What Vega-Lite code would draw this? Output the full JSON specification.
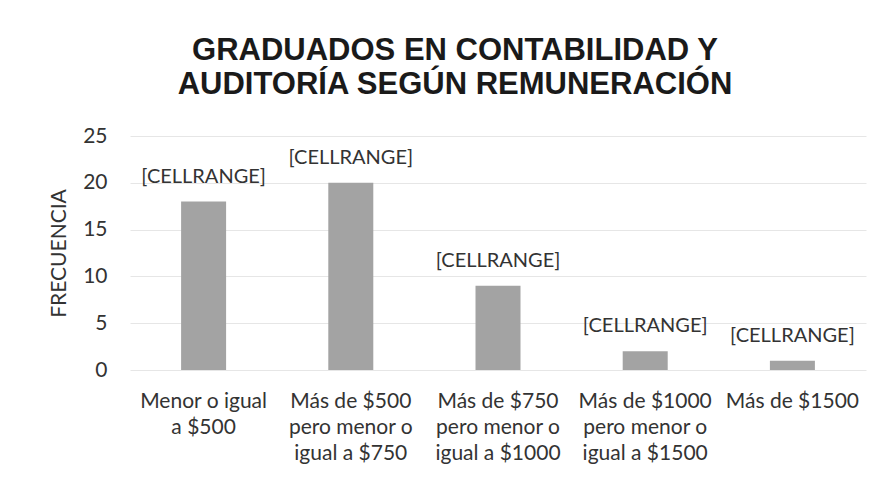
{
  "$schema": "https://vega.github.io/schema/vega-lite/v6.json",
  "autosize": {"type": "none"},
  "width": 736,
  "height": 234,
  "padding": {"left": 130, "top": 136, "right": 17, "bottom": 110},
  "background": "white",
  "title": {
    "text": ["GRADUADOS EN CONTABILIDAD Y", "AUDITORÍA SEGÚN REMUNERACIÓN"],
    "font": "Liberation Sans",
    "fontSize": 31,
    "fontWeight": "bold",
    "color": "#1a1a1a",
    "lineHeight": 34,
    "anchor": "middle",
    "dx": -43,
    "offset": 24
  },
  "data": {
    "values": [
      {"categoria": "Menor o igual a $500", "frecuencia": 18, "etiqueta": "[CELLRANGE]"},
      {"categoria": "Más de $500 pero menor o igual a $750", "frecuencia": 20, "etiqueta": "[CELLRANGE]"},
      {"categoria": "Más de $750 pero menor o igual a $1000", "frecuencia": 9, "etiqueta": "[CELLRANGE]"},
      {"categoria": "Más de $1000 pero menor o igual a $1500", "frecuencia": 2, "etiqueta": "[CELLRANGE]"},
      {"categoria": "Más de $1500", "frecuencia": 1, "etiqueta": "[CELLRANGE]"}
    ]
  },
  "encoding": {
    "x": {
      "field": "categoria",
      "type": "nominal",
      "sort": null,
      "axis": {
        "title": null,
        "labelAngle": 0,
        "labelFont": "Lato",
        "labelFontSize": 21,
        "labelColor": "#333333",
        "labelLineHeight": 26,
        "labelPadding": 20,
        "labelBaseline": "top",
        "ticks": false,
        "domain": false,
        "labelExpr": "split(replace(replace(replace(datum.label, ' pero ', '|pero '), 'menor o igual', 'menor o|igual'), 'Menor o igual ', 'Menor o igual|'), '|')"
      }
    },
    "y": {
      "field": "frecuencia",
      "type": "quantitative",
      "scale": {"domain": [0, 25]},
      "axis": {
        "title": "FRECUENCIA",
        "titleFont": "Lato",
        "titleFontSize": 21,
        "titleFontWeight": "normal",
        "titleColor": "#333333",
        "titlePadding": 13,
        "values": [0, 5, 10, 15, 20, 25],
        "labelFont": "Lato",
        "labelFontSize": 21,
        "labelColor": "#333333",
        "labelPadding": 23,
        "ticks": false,
        "domain": false,
        "gridColor": "#e6e6e6",
        "gridWidth": 1
      }
    }
  },
  "layer": [
    {
      "mark": {"type": "bar", "size": 45, "color": "#a3a3a3"}
    },
    {
      "mark": {"type": "text", "font": "Lato", "fontSize": 20, "color": "#333333", "baseline": "middle", "dy": -25},
      "encoding": {"text": {"field": "etiqueta"}}
    }
  ],
  "config": {"view": {"stroke": null}}
}
